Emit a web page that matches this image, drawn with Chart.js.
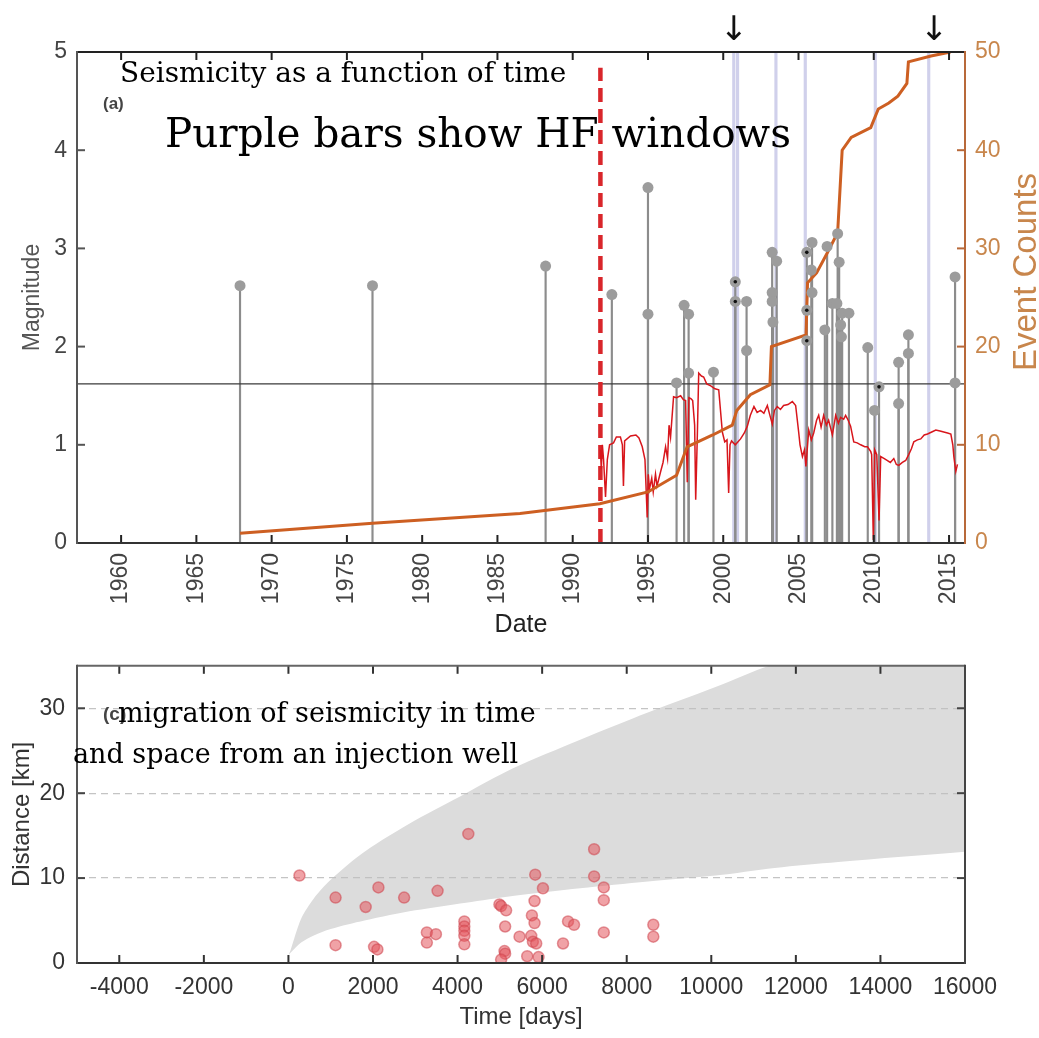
<!DOCTYPE html>
<html lang="en">
<head>
<meta charset="UTF-8">
<title>Seismicity and injection history</title>
<script src="https://cdn.jsdelivr.net/npm/chart.js"></script>
<style>
  body { margin: 0; background: #fff; }
  canvas { position: absolute; left: 0; }
</style>
</head>
<body>
<canvas id="seismChart" width="1039" height="640" style="top:0"></canvas>
<canvas id="migrationChart" width="1039" height="398" style="top:640px"></canvas>
<script>
// ---------- panel (a): magnitudes, cumulative count, injection trace ----------
const yearTicks = [1960, 1965, 1970, 1975, 1980, 1985, 1990, 1995, 2000, 2005, 2010, 2015];
const magTicks = [0, 1, 2, 3, 4, 5];
const countTicks = [0, 10, 20, 30, 40, 50];

// [year, magnitude]
const events = [
  [1967.9, 2.62], [1976.7, 2.62], [1988.2, 2.82], [1992.6, 2.53], [1995.0, 3.62], [1995.0, 2.33],
  [1996.9, 1.63], [1997.4, 2.42], [1997.7, 2.33], [1997.7, 1.73], [1999.35, 1.74],
  [2000.8, 2.66], [2000.8, 2.46], [2001.55, 1.96], [2001.55, 2.46],
  [2003.25, 2.96], [2003.55, 2.87], [2003.25, 2.55], [2003.25, 2.46], [2003.3, 2.25],
  [2005.55, 2.96], [2005.9, 3.06], [2005.85, 2.78], [2005.9, 2.55], [2005.55, 2.37], [2005.55, 2.06],
  [2006.75, 2.17], [2006.9, 3.02], [2007.25, 2.44], [2007.55, 2.44], [2007.6, 3.15], [2007.7, 2.86],
  [2007.8, 2.22], [2007.85, 2.1], [2007.9, 2.34], [2008.35, 2.34],
  [2009.6, 1.99], [2010.05, 1.35], [2010.35, 1.59], [2011.65, 1.84], [2011.65, 1.42],
  [2012.3, 2.12], [2012.3, 1.93], [2015.4, 2.71], [2015.4, 1.63]
];
// events with a dark centre marker
const markedEvents = [[2000.8, 2.66], [2000.8, 2.46], [2005.55, 2.96], [2005.55, 2.37], [2005.55, 2.06], [2010.35, 1.59]];
const hfWindowYears = [2000.7, 2000.95, 2003.5, 2005.45, 2010.1, 2013.65];
const arrowYears = [2000.7, 2014.0];
const thresholdMag = 1.62;
const injectionStart = 1991.84;
const injectionMarkTop = 4.84;

// [year, cumulative event count]
const eventCount = [
  [1967.9, 1.0], [1976.7, 2.0], [1986.5, 3.0], [1991.8, 4.0], [1995.0, 5.2], [1996.9, 6.9],
  [1997.6, 9.8], [1999.3, 11.0], [2000.6, 12.0], [2000.9, 13.5], [2001.8, 15.1], [2003.1, 16.1],
  [2003.2, 20.0], [2005.5, 21.2], [2005.6, 26.5], [2006.2, 27.5], [2006.9, 29.5], [2007.6, 31.6],
  [2007.9, 40.0], [2008.5, 41.3], [2009.8, 42.3], [2010.3, 44.2], [2011.0, 44.8], [2011.6, 45.5],
  [2012.2, 46.8], [2012.3, 49.0], [2013.8, 49.6], [2015.1, 50.0]
];

// [year, value on magnitude axis]
const injectionTrace = [
  [1991.84, 0.95], [1991.9, 0.75], [1991.97, 1.0], [1992.05, 0.85], [1992.18, 0.47], [1992.3, 0.85],
  [1992.45, 1.0], [1992.71, 1.02], [1992.9, 1.08], [1993.17, 1.08], [1993.3, 1.0], [1993.37, 0.58],
  [1993.45, 1.04], [1993.84, 1.09], [1994.2, 1.1], [1994.4, 1.07], [1994.62, 0.98], [1994.8, 0.85],
  [1994.95, 0.26], [1995.02, 0.7], [1995.1, 0.55], [1995.25, 0.66], [1995.35, 0.52], [1995.5, 0.7],
  [1995.6, 0.58], [1995.83, 0.72], [1996.0, 0.82], [1996.17, 0.98], [1996.3, 0.86], [1996.4, 1.2],
  [1996.5, 1.08], [1996.7, 1.49], [1996.9, 1.48], [1997.17, 1.5], [1997.35, 1.46], [1997.5, 1.45],
  [1997.61, 0.62], [1997.72, 1.48], [1997.85, 1.47], [1997.97, 1.45], [1998.1, 1.2], [1998.17, 0.44],
  [1998.28, 1.1], [1998.37, 1.73], [1998.55, 1.7], [1998.7, 1.69], [1998.9, 1.62], [1999.17, 1.6],
  [1999.45, 1.57], [1999.7, 1.56], [1999.94, 1.13], [2000.1, 1.03], [2000.25, 1.05], [2000.36, 0.51],
  [2000.45, 1.0], [2000.55, 1.04], [2000.8, 1.0], [2001.15, 1.06], [2001.4, 1.12], [2001.6, 1.19],
  [2001.8, 1.3], [2002.04, 1.39], [2002.25, 1.33], [2002.48, 1.35], [2002.7, 1.32], [2002.93, 1.4],
  [2003.1, 1.3], [2003.26, 1.21], [2003.4, 1.35], [2003.59, 1.39], [2003.8, 1.36], [2004.01, 1.4],
  [2004.3, 1.41], [2004.59, 1.44], [2004.81, 1.4], [2005.01, 1.13], [2005.1, 1.0], [2005.26, 0.88],
  [2005.4, 0.95], [2005.49, 0.78], [2005.68, 1.15], [2005.85, 1.05], [2006.01, 1.12], [2006.2, 1.25],
  [2006.34, 1.3], [2006.5, 1.18], [2006.67, 1.3], [2006.85, 1.2], [2007.0, 1.25], [2007.25, 1.1],
  [2007.47, 1.3], [2007.65, 1.22], [2007.8, 1.28], [2008.0, 1.26], [2008.13, 1.3], [2008.3, 1.25],
  [2008.46, 1.19], [2008.67, 1.03], [2008.9, 1.02], [2009.13, 1.0], [2009.4, 0.98], [2009.58, 0.98],
  [2009.8, 0.93], [2009.86, 0.9], [2009.97, 0.03], [2010.06, 0.95], [2010.2, 0.9], [2010.35, 0.23],
  [2010.46, 0.88], [2010.7, 0.86], [2010.91, 0.84], [2011.1, 0.82], [2011.33, 0.86], [2011.5, 0.8],
  [2011.66, 0.79], [2011.9, 0.82], [2012.12, 0.84], [2012.32, 0.9], [2012.5, 0.96], [2012.66, 1.03],
  [2012.9, 1.05], [2013.12, 1.06], [2013.35, 1.1], [2013.57, 1.11], [2013.85, 1.13], [2014.12, 1.15],
  [2014.4, 1.14], [2014.65, 1.13], [2014.9, 1.12], [2015.12, 1.11], [2015.25, 1.0], [2015.32, 0.88],
  [2015.45, 0.73], [2015.56, 0.8]
];

// ---------- panel (c): distance from well vs time ----------
const dayTicks = [-4000, -2000, 0, 2000, 4000, 6000, 8000, 10000, 12000, 14000, 16000];
const kmTicks = [0, 10, 20, 30];

// [days since injection, distance km]
const quakes = [
  [261, 10.3], [1115, 7.7], [1827, 6.6], [2128, 8.9], [2736, 7.7], [3527, 8.5], [4254, 15.2],
  [1115, 2.1], [2025, 1.9], [2104, 1.6], [3274, 3.6], [3488, 3.4], [3274, 2.4],
  [4160, 4.9], [4160, 4.3], [4160, 3.8], [4160, 3.2], [4160, 2.2],
  [4990, 6.9], [5030, 6.7], [5148, 6.2], [5125, 4.3], [5110, 1.4], [5125, 1.1], [5030, 0.4],
  [5465, 3.1], [5647, 0.8], [5836, 10.4], [5820, 7.3], [6019, 8.8], [5758, 5.6], [5820, 4.7],
  [5742, 3.2], [5781, 2.5], [5860, 2.3], [5915, 0.7], [6494, 2.3], [6612, 4.9], [6755, 4.5],
  [7229, 13.4], [7229, 10.2], [7458, 8.9], [7458, 7.4], [7458, 3.6], [8629, 4.5], [8629, 3.1]
];
// diffusion envelope
const bandDays = [0, 50, 300, 600, 1000, 1800, 3000, 4200, 5300, 6900, 8500, 10100, 11500, 13000, 16000];
const bandUpper = [0.9, 1.5, 5.2, 7.6, 9.8, 13.1, 16.8, 20.0, 22.9, 26.3, 29.5, 32.5, 35.2, 36.5, 39.0];
const bandLower = [0.9, 1.2, 2.4, 3.25, 4.0, 5.0, 6.2, 7.1, 7.9, 8.8, 9.6, 10.3, 11.2, 11.9, 13.1];

const xy = pairs => pairs.map(([x, y]) => ({ x, y }));

Chart.defaults.font.family = '"Liberation Sans", Arial, sans-serif';
Chart.defaults.color = '#444';

const SERIF = '"DejaVu Serif", serif';
const TICK_FONT = { size: 23 };

// box edges and inward tick marks, MATLAB style
const axisFrame = {
  id: 'axisFrame',
  afterDraw(chart, args, o) {
    const { ctx, chartArea: a, scales } = chart;
    const len = 8;
    const seg = (x1, y1, x2, y2, c) => {
      ctx.strokeStyle = c;
      ctx.beginPath(); ctx.moveTo(x1, y1); ctx.lineTo(x2, y2); ctx.stroke();
    };
    ctx.save();
    ctx.lineWidth = 2;
    scales.x.ticks.forEach(t => {
      const px = scales.x.getPixelForValue(t.value);
      seg(px, a.bottom, px, a.bottom - len, o.xTick);
      seg(px, a.top, px, a.top + len, o.xTick);
    });
    scales.y.ticks.forEach(t => {
      const py = scales.y.getPixelForValue(t.value);
      seg(a.left, py, a.left + len, py, o.yTick);
      if (!scales.y2) seg(a.right, py, a.right - len, py, o.yTick);
    });
    if (scales.y2) {
      scales.y2.ticks.forEach(t => {
        const py = scales.y2.getPixelForValue(t.value);
        seg(a.right, py, a.right - len, py, o.rightEdge);
      });
    }
    seg(a.left, a.top, a.right, a.top, o.topEdge);
    seg(a.left, a.bottom, a.right + 1, a.bottom, o.bottomEdge);
    seg(a.left, a.top - 1, a.left, a.bottom + 1, o.leftEdge);
    seg(a.right, a.top - 1, a.right, a.bottom + 1, o.rightEdge);
    ctx.restore();
  }
};

// free text drawn over the plot
const notes = {
  id: 'notes',
  afterDraw(chart, args, o) {
    const { ctx } = chart;
    ctx.save();
    (o.items || []).forEach(n => {
      ctx.font = n.font;
      ctx.fillStyle = n.color || '#000';
      ctx.textAlign = n.align || 'left';
      ctx.textBaseline = n.baseline || 'alphabetic';
      ctx.save();
      ctx.translate(n.x, n.y);
      if (n.rotate) ctx.rotate(n.rotate);
      ctx.fillText(n.text, 0, 0);
      ctx.restore();
    });
    if (o.arrows) {
      const xs = chart.scales.x;
      ctx.font = '34px "DejaVu Sans", sans-serif';
      ctx.fillStyle = '#111';
      ctx.textAlign = 'center';
      ctx.textBaseline = 'alphabetic';
      o.arrows.forEach(yr => ctx.fillText('\u2193', xs.getPixelForValue(yr), 40));
    }
    ctx.restore();
  }
};

new Chart(document.getElementById('seismChart'), {
  type: 'scatter',
  plugins: [axisFrame, notes],
  data: {
    datasets: [
      {
        type: 'scatter', data: xy(markedEvents), order: 0,
        pointRadius: 1.8, pointBackgroundColor: '#111', pointBorderWidth: 0
      },
      {
        type: 'scatter', data: xy(events), order: 1,
        pointRadius: 5.5, pointBackgroundColor: '#9c9c9c', pointBorderWidth: 0
      },
      {
        type: 'line', data: xy(eventCount), yAxisID: 'y2', order: 2,
        borderColor: '#cd5f22', borderWidth: 3, pointRadius: 0, tension: 0
      },
      {
        type: 'line', data: xy(injectionTrace), order: 3,
        borderColor: '#d8161c', borderWidth: 1.5, pointRadius: 0, tension: 0
      },
      {
        type: 'line', order: 4,
        data: [{ x: injectionStart, y: 0 }, { x: injectionStart, y: injectionMarkTop }],
        borderColor: '#d9262b', borderWidth: 4.5, borderDash: [14, 7], pointRadius: 0
      },
      {
        type: 'line', order: 5,
        data: [{ x: 1957.07, y: thresholdMag }, { x: 2016.06, y: thresholdMag }],
        borderColor: '#3a3a3a', borderWidth: 1.2, pointRadius: 0
      },
      {
        type: 'bar', data: xy(events), order: 6, grouped: false,
        barThickness: 1.5, backgroundColor: '#8c8c8c', borderWidth: 0
      },
      {
        type: 'bar', data: hfWindowYears.map(x => ({ x, y: magTicks[magTicks.length - 1] })), order: 7,
        grouped: false, barThickness: 2.5, backgroundColor: 'rgba(176,176,222,0.6)', borderWidth: 0
      }
    ]
  },
  options: {
    responsive: false,
    animation: false,
    layout: { padding: { top: 52, left: 0, right: 0, bottom: 0 } },
    plugins: {
      legend: { display: false },
      tooltip: { enabled: false },
      axisFrame: { xTick: '#222', yTick: '#555', topEdge: '#222', bottomEdge: '#333', leftEdge: '#555', rightEdge: '#b8693a' },
      notes: {
        arrows: arrowYears,
        items: [
          { text: '(a)', x: 103, y: 104, font: 'bold 17px "Liberation Sans", Arial', color: '#444', baseline: 'middle' },
          { text: 'Seismicity as a function of time', x: 120, y: 82, font: '28px ' + SERIF },
          { text: 'Purple bars show HF windows', x: 165, y: 147, font: '40.5px ' + SERIF },
          { text: 'Event Counts', x: 1027, y: 272, font: '33px "Liberation Sans", Arial', color: '#c8864c',
            align: 'center', baseline: 'middle', rotate: -Math.PI / 2 }
        ]
      }
    },
    scales: {
      x: {
        type: 'linear', min: 1957.07, max: 2016.06, offset: false,
        afterBuildTicks: s => { s.ticks = yearTicks.map(v => ({ value: v })); },
        afterFit: s => { s.height = 97; },
        grid: { display: false, drawTicks: false, offset: false },
        border: { display: false },
        ticks: { font: TICK_FONT, color: '#444', padding: 10, minRotation: 90, maxRotation: 90, autoSkip: false,
                 callback: v => String(v) },
        title: { display: true, text: 'Date', color: '#222', font: { size: 25 }, padding: { top: 0, bottom: 0 } }
      },
      y: {
        min: 0, max: 5, position: 'left',
        afterBuildTicks: s => { s.ticks = magTicks.map(v => ({ value: v })); },
        afterFit: s => { s.width = 77; },
        grid: { display: false, drawTicks: false },
        border: { display: false },
        ticks: { font: TICK_FONT, color: '#444', padding: 10 },
        title: { display: true, text: 'Magnitude', color: '#555', font: { size: 23 }, padding: { top: 19, bottom: 0 } }
      },
      y2: {
        min: 0, max: 50, position: 'right',
        afterBuildTicks: s => { s.ticks = countTicks.map(v => ({ value: v })); },
        afterFit: s => { s.width = 74; },
        grid: { display: false, drawTicks: false },
        border: { display: false },
        ticks: { font: TICK_FONT, color: '#c8864c', padding: 10 }
      }
    }
  }
});

new Chart(document.getElementById('migrationChart'), {
  type: 'scatter',
  plugins: [axisFrame, notes],
  data: {
    datasets: [
      {
        type: 'scatter', data: xy(quakes), order: 0,
        pointRadius: 5.5, pointBackgroundColor: 'rgba(228,86,92,0.55)',
        pointBorderColor: 'rgba(205,70,78,0.55)', pointBorderWidth: 1.5
      },
      {
        type: 'line', order: 1,
        data: bandDays.map((d, i) => ({ x: d, y: bandUpper[i] })),
        borderWidth: 0, pointRadius: 0, tension: 0.3,
        backgroundColor: '#dcdcdc', fill: '+1'
      },
      {
        type: 'line', order: 2,
        data: bandDays.map((d, i) => ({ x: d, y: bandLower[i] })),
        borderWidth: 0, pointRadius: 0, tension: 0.3
      }
    ]
  },
  options: {
    responsive: false,
    animation: false,
    layout: { padding: { top: 4, left: 0, right: 74, bottom: 0 } },
    plugins: {
      legend: { display: false },
      tooltip: { enabled: false },
      filler: { drawTime: 'beforeDraw' },
      axisFrame: { xTick: '#333', yTick: '#444', topEdge: '#666', bottomEdge: '#333', leftEdge: '#555', rightEdge: '#444' },
      notes: {
        items: [
          { text: '(c)', x: 103, y: 75, font: 'bold 19px "Liberation Sans", Arial', color: '#444', baseline: 'middle' },
          { text: 'migration of seismicity in time', x: 118, y: 82, font: '27px ' + SERIF },
          { text: 'and space from an injection well', x: 73, y: 123, font: '27px ' + SERIF }
        ]
      }
    },
    scales: {
      x: {
        type: 'linear', min: -5000, max: 16000,
        afterBuildTicks: s => { s.ticks = dayTicks.map(v => ({ value: v })); },
        afterFit: s => { s.height = 75; },
        grid: { display: false, drawTicks: false },
        border: { display: false },
        ticks: { font: TICK_FONT, color: '#333', padding: 11, maxRotation: 0, autoSkip: false,
                 callback: v => String(v) },
        title: { display: true, text: 'Time [days]', color: '#333', font: { size: 24 }, padding: { top: 0, bottom: 6 } }
      },
      y: {
        min: 0, max: 35,
        afterBuildTicks: s => { s.ticks = kmTicks.map(v => ({ value: v })); },
        afterFit: s => { s.width = 77; },
        grid: {
          drawTicks: false, lineWidth: 1.2,
          color: c => (c.tick && c.tick.value === 0 ? 'rgba(0,0,0,0)' : 'rgba(190,190,190,0.9)')
        },
        border: { display: false, dash: [7, 5] },
        ticks: { font: TICK_FONT, color: '#333', padding: 12 },
        title: { display: true, text: 'Distance [km]', color: '#333', font: { size: 24 }, padding: { top: 8, bottom: 0 } }
      }
    }
  }
});
</script>
</body>
</html>
